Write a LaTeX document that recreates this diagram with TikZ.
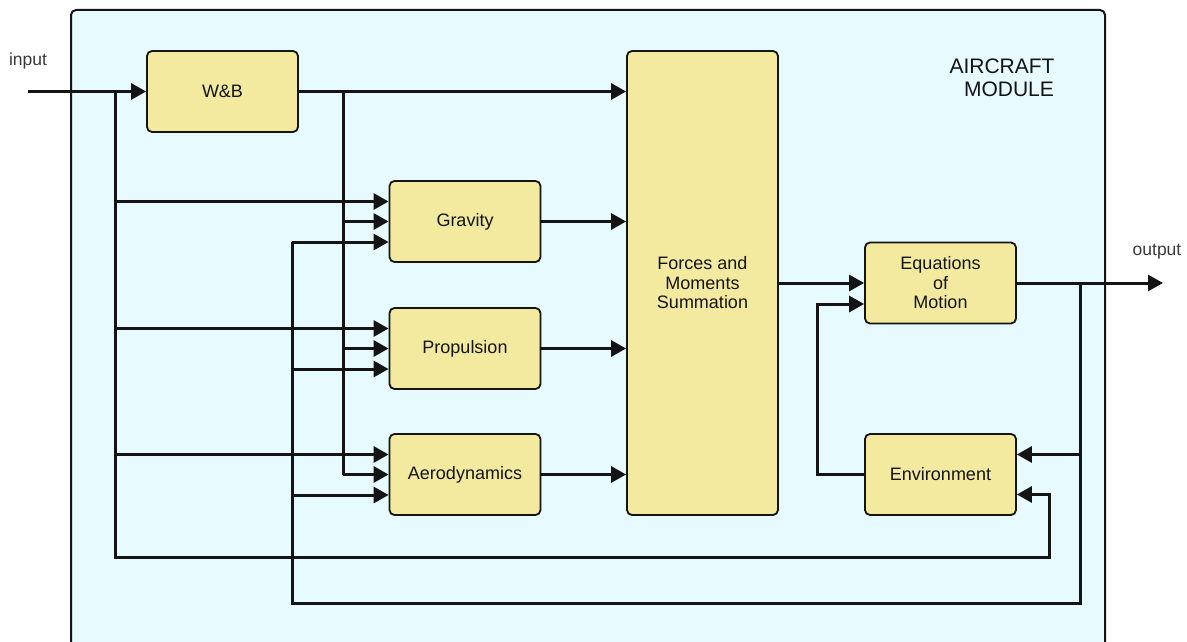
\documentclass[tikz,border=0pt]{standalone}
\usepackage{fontspec}
\setmainfont{Liberation Sans}
\usepackage{xcolor}
\usepackage{tikz}
\usetikzlibrary{arrows.meta,positioning,calc}
\definecolor{khaki}{HTML}{F3EA9F}
\definecolor{sky}{HTML}{E6FAFF}
\definecolor{ink}{HTML}{141414}
\definecolor{grey}{HTML}{3A3A3A}

\begin{document}
\begin{tikzpicture}[
x=1pt,y=-1pt,
box/.style={draw=ink,line width=1.8pt,rounded corners=5pt,fill=khaki,align=center,minimum width=151pt,minimum height=81pt,font=\fontsize{18}{19.5}\selectfont,text=ink},
wire/.style={line width=3pt,draw=ink},
arr/.style={wire,-{Triangle[length=15pt,width=16pt]}},
lbl/.style={font=\fontsize{17.5}{20}\selectfont,text=grey}
]
\useasboundingbox (0,0) rectangle (1187,642);
\draw[draw=ink,line width=2pt,fill=sky,rounded corners=5pt] (71,10) rectangle (1105,680);

\node[box] (wb) at (222.5,91.5) {W\&B};
\node[box,minimum height=464pt] (fms) at (702.5,283) {Forces and\\Moments\\Summation};
\node[box] (grav) at (465,221.5) {Gravity};
\node[box] (prop) at (465,348.5) {Propulsion};
\node[box] (aero) at (465,474.5) {Aerodynamics};
\node[box] (eom) at (940.5,283) {Equations\\of\\Motion};
\node[box] (env) at (940.5,474.5) {Environment};

\node[lbl] (inlbl) at (28,61) {input};
\node[lbl] (outlbl) at (1157,252) {output};
\node[font=\fontsize{21}{23}\selectfont,align=center,text=ink] (title) at (1002,78) {AIRCRAFT\\\hspace*{14pt}MODULE};

% bus points
\coordinate (in) at (28,91.5);
\coordinate (inbus) at (115,91.5);
\coordinate (wbbus) at (343,91.5);
\coordinate (fbbus) at (292,242);
\coordinate (outbus) at (1080,283);
\coordinate (out) at (1163,283);
\coordinate (envbus) at (817,474.5);

\draw[arr] (in) -- (wb.west);
\draw[arr] (wb.east) -- (fms.west |- wb.east);
\draw[wire] (wbbus) -- (wbbus |- aero.west);
\draw[arr] (inbus) |- (1049,557) |- ([yshift=-20pt]env.east);
\draw[wire] (fbbus) |- (1080,603) -- (outbus);

\foreach \n in {grav,prop,aero}{
  \coordinate (\n-a) at ([yshift=20pt]\n.west);
  \coordinate (\n-c) at ([yshift=-20.5pt]\n.west);
  \draw[arr] (inbus |- \n-a) -- (\n-a);
  \draw[arr] (wbbus |- \n.west) -- (\n.west);
  \draw[arr] (fbbus |- \n-c) -- (\n-c);
  \draw[arr] (\n.east) -- (fms.west |- \n.east);
}

\draw[arr] (fms.east |- eom.west) -- (eom.west);
\draw[arr] (eom.east) -- (out);
\draw[arr] (outbus |- env.east) ++(0,-20) -- ([yshift=20pt]env.east);
\draw[arr] (env.west) -- (envbus) |- ([yshift=-21pt]eom.west);
\end{tikzpicture}
\end{document}
